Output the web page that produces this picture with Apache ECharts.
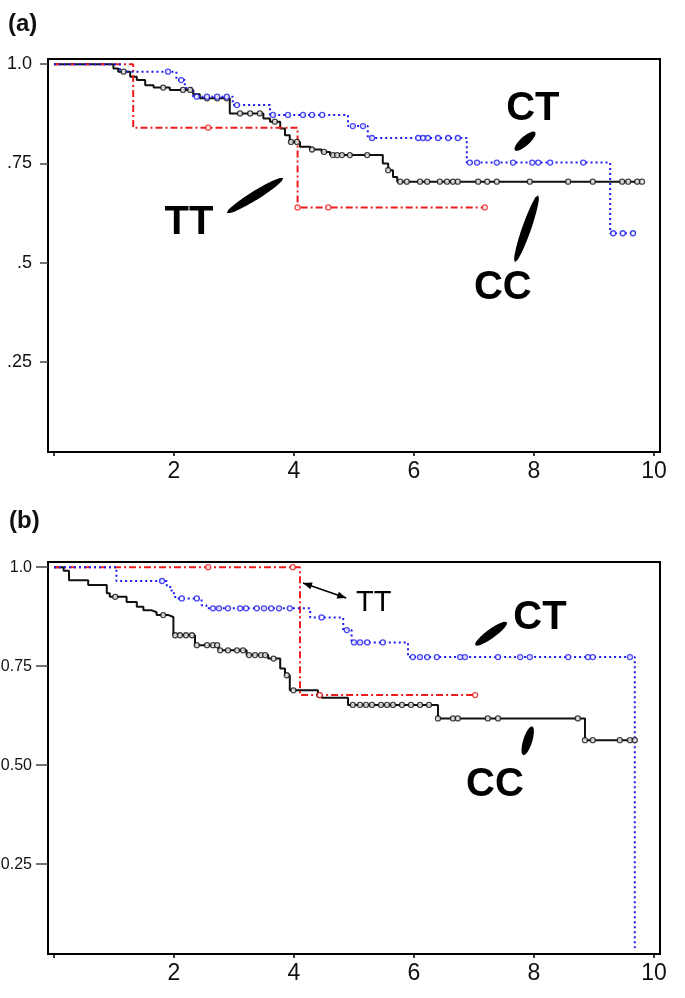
<!DOCTYPE html>
<html><head><meta charset="utf-8">
<script src="https://cdn.jsdelivr.net/npm/echarts@6/dist/echarts.min.js"></script>
<style>html,body{margin:0;padding:0;background:#fff}#c{width:685px;height:998px}</style>
</head><body><div id="c"></div><script>
// ---------- Panel (a) ----------
const ccA_time = [0, 0.99, 1.07, 1.27, 1.38, 1.52, 1.66, 1.93, 2.32, 2.43, 2.93, 3.49, 3.6, 3.77, 3.85, 3.93, 4.1, 4.27, 4.46, 4.6, 5.48, 5.57, 5.65, 5.72, 9.8];
const ccA_surv = [1, 0.989, 0.981, 0.968, 0.96, 0.947, 0.941, 0.935, 0.924, 0.914, 0.876, 0.863, 0.855, 0.838, 0.821, 0.804, 0.792, 0.785, 0.779, 0.771, 0.75, 0.733, 0.716, 0.704, 0.704];
const ccA_cens = [1.16, 1.82, 2.15, 2.27, 2.55, 2.72, 2.88, 3.1, 3.27, 3.43, 3.68, 3.95, 4.05, 4.3, 4.5, 4.65, 4.72, 4.8, 4.93, 5.22, 5.57, 5.77, 5.88, 6.1, 6.22, 6.43, 6.55, 6.65, 6.73, 7.07, 7.22, 7.38, 7.93, 8.57, 8.98, 9.47, 9.57, 9.72, 9.8];

const ctA_time = [0, 1.1, 2.04, 2.18, 2.32, 2.98, 3.6, 4.9, 5.23, 6.88, 9.27, 9.7];
const ctA_surv = [1, 0.981, 0.96, 0.94, 0.918, 0.897, 0.872, 0.844, 0.814, 0.752, 0.574, 0.574];
const ctA_cens = [1.9, 2.12, 2.38, 2.55, 2.72, 2.88, 3.05, 3.65, 3.9, 4.15, 4.3, 4.47, 4.98, 5.15, 5.3, 6.07, 6.15, 6.23, 6.4, 6.57, 6.73, 6.93, 7.05, 7.38, 7.65, 7.97, 8.07, 8.27, 8.82, 9.32, 9.48, 9.65];

const ttA_time = [0, 1.32, 4.06, 7.18];
const ttA_surv = [1, 0.84, 0.639, 0.639];
const ttA_cens = [2.57, 4.06, 4.57, 7.18];

// ---------- Panel (b) ----------
const ccB_time = [0, 0.16, 0.25, 0.57, 0.88, 0.93, 1.21, 1.38, 1.49, 1.63, 1.71, 1.91, 1.99, 2.35, 2.74, 3.21, 3.57, 3.77, 3.85, 3.93, 4.4, 4.46, 4.9, 6.4, 8.85, 9.68];
const ccB_surv = [1, 0.991, 0.967, 0.955, 0.934, 0.925, 0.912, 0.9, 0.891, 0.886, 0.879, 0.874, 0.828, 0.803, 0.79, 0.778, 0.769, 0.744, 0.727, 0.689, 0.677, 0.67, 0.652, 0.618, 0.563, 0.563];
const ccB_cens = [1.02, 1.82, 2.02, 2.1, 2.2, 2.3, 2.38, 2.55, 2.65, 2.72, 2.77, 2.9, 3.05, 3.15, 3.25, 3.35, 3.45, 3.52, 3.66, 3.88, 3.99, 4.42, 4.98, 5.1, 5.2, 5.3, 5.45, 5.55, 5.65, 5.8, 5.95, 6.1, 6.25, 6.4, 6.65, 6.73, 7.23, 7.4, 8.73, 8.85, 8.98, 9.43, 9.6, 9.68];

const ctB_time = [0, 1.04, 1.88, 1.96, 2.02, 2.46, 2.54, 4.27, 4.82, 4.96, 5.9, 9.68];
const ctB_surv = [1, 0.965, 0.95, 0.934, 0.921, 0.904, 0.896, 0.873, 0.841, 0.81, 0.773, 0.038];
const ctB_cens = [1.8, 2.13, 2.38, 2.65, 2.75, 2.9, 3.1, 3.2, 3.38, 3.5, 3.62, 3.75, 3.93, 4.46, 4.88, 5.0, 5.1, 5.22, 5.48, 5.98, 6.1, 6.22, 6.38, 6.77, 6.85, 7.4, 7.77, 7.93, 8.57, 8.9, 8.98, 9.6];

const ttB_time = [0, 4.1, 7.02];
const ttB_surv = [1, 0.677, 0.677];
const ttB_cens = [2.57, 3.98, 4.43, 7.02];

// ---------- Axis ticks / labels ----------
const xTicks = [0, 2, 4, 6, 8, 10];
const xLabels = [2, 4, 6, 8, 10];
const yTicks = [0.25, 0.5, 0.75, 1.0];
const yLabelsA = {'0.25': '.25', '0.5': '.5', '0.75': '.75', '1': '1.0'};
const yLabelsB = {'0.25': '0.25', '0.5': '0.50', '0.75': '0.75', '1': '1.0'};

const BLACK = '#111111', BLUE = '#1a1aee', RED = '#ee1c1c';
const NARROW = "'Liberation Sans Narrow', 'Arial Narrow', 'Liberation Sans', sans-serif";
const BOLD = "'Liberation Sans', Arial, sans-serif";

function levelAt(ts, ss, t) {
  let v = ss[0];
  for (let i = 0; i < ts.length; i++) if (ts[i] <= t + 1e-9) v = ss[i];
  return v;
}
function stepSeries(ts, ss, color, dash, gi, z) {
  return {type: 'line', xAxisIndex: gi, yAxisIndex: gi, step: 'end', showSymbol: false, symbol: 'none',
    data: ts.map((t, i) => [t, ss[i]]), lineStyle: {color: color, width: 2, type: dash}, z: z,
    animation: false, silent: true};
}
function censSeries(ts, ss, cens, color, gi, z) {
  return {type: 'scatter', xAxisIndex: gi, yAxisIndex: gi, symbol: 'circle', symbolSize: 5,
    data: cens.map(t => [t, levelAt(ts, ss, t)]),
    itemStyle: {color: '#fff', borderColor: color, borderWidth: 1.3}, z: z, animation: false, silent: true};
}
function xAxis(gi) {
  return {type: 'value', gridIndex: gi, min: -0.1, max: 10.1,
    axisLine: {show: true, onZero: false, lineStyle: {color: '#000', width: 2}},
    axisTick: {show: true, customValues: xTicks, length: 4, lineStyle: {color: '#000', width: 1.5}},
    axisLabel: {customValues: xLabels, fontSize: 23, fontFamily: NARROW, color: '#111', margin: 8},
    splitLine: {show: false}};
}
function yAxis(gi, labels, tickLen, margin, fs) {
  return {type: 'value', gridIndex: gi, min: 0.023, max: 1.013,
    axisLine: {show: true, onZero: false, lineStyle: {color: '#000', width: 2}},
    axisTick: {show: true, customValues: yTicks, length: tickLen, lineStyle: {color: '#444', width: 1.5}},
    axisLabel: {customValues: yTicks, fontSize: fs, fontFamily: NARROW, color: '#111', margin: margin,
      formatter: v => labels[String(+v.toFixed(2))] || ''},
    splitLine: {show: false}};
}

const option = {
  backgroundColor: '#fff',
  animation: false,
  title: [
    {text: '(a)', left: 8, top: 12, padding: 0, textStyle: {fontSize: 24, fontWeight: 'bold', fontFamily: BOLD, color: '#111'}},
    {text: '(b)', left: 9, top: 509, padding: 0, textStyle: {fontSize: 24, fontWeight: 'bold', fontFamily: BOLD, color: '#111'}}
  ],
  grid: [
    {left: 48, top: 59, width: 612, height: 393, show: true, borderColor: '#000', borderWidth: 2, backgroundColor: 'transparent', containLabel: false, outerBoundsMode: 'none'},
    {left: 48, top: 562, width: 612, height: 392, show: true, borderColor: '#000', borderWidth: 2, backgroundColor: 'transparent', containLabel: false, outerBoundsMode: 'none'}
  ],
  xAxis: [xAxis(0), xAxis(1)],
  yAxis: [yAxis(0, yLabelsA, 8, 16, 18), yAxis(1, yLabelsB, 12, 16, 16)],
  series: [
    stepSeries(ccA_time, ccA_surv, BLACK, 'solid', 0, 2),
    stepSeries(ttA_time, ttA_surv, RED, [7, 3, 2, 3], 0, 3),
    stepSeries(ctA_time, ctA_surv, BLUE, [2, 3], 0, 4),
    censSeries(ccA_time, ccA_surv, ccA_cens, BLACK, 0, 5),
    censSeries(ttA_time, ttA_surv, ttA_cens, RED, 0, 5),
    censSeries(ctA_time, ctA_surv, ctA_cens, BLUE, 0, 5),
    stepSeries(ccB_time, ccB_surv, BLACK, 'solid', 1, 2),
    stepSeries(ttB_time, ttB_surv, RED, [7, 3, 2, 3], 1, 3),
    stepSeries(ctB_time, ctB_surv, BLUE, [2, 3], 1, 4),
    censSeries(ccB_time, ccB_surv, ccB_cens, BLACK, 1, 5),
    censSeries(ttB_time, ttB_surv, ttB_cens, RED, 1, 5),
    censSeries(ctB_time, ctB_surv, ctB_cens, BLUE, 1, 5)
  ]
};

const chart = echarts.init(document.getElementById('c'), null, {renderer: 'canvas'});
chart.setOption(option);

// ---------- Annotations (positions in data coordinates) ----------
const labelsAnn = [
  {g: 0, text: 'CT', at: [7.98, 0.887], bold: true, size: 40},
  {g: 0, text: 'TT', at: [2.25, 0.60], bold: true, size: 40},
  {g: 0, text: 'CC', at: [7.48, 0.436], bold: true, size: 40},
  {g: 1, text: 'TT', at: [5.33, 0.909], bold: false, size: 29},
  {g: 1, text: 'CT', at: [8.1, 0.871], bold: true, size: 40},
  {g: 1, text: 'CC', at: [7.35, 0.449], bold: true, size: 40}
];
const pointersAnn = [
  {g: 0, from: [8.02, 0.829], to: [7.68, 0.783]},
  {g: 0, from: [3.82, 0.713], to: [2.88, 0.625]},
  {g: 0, from: [8.07, 0.67], to: [7.68, 0.501]},
  {g: 1, from: [7.55, 0.861], to: [7.02, 0.803]},
  {g: 1, from: [7.97, 0.598], to: [7.82, 0.525]}
];
const arrowsAnn = [{g: 1, from: [4.15, 0.96], to: [4.87, 0.922]}];

function px(g, p) { return chart.convertToPixel({gridIndex: g}, p); }
function lens(a, b, w) {
  const dx = b[0] - a[0], dy = b[1] - a[1], L = Math.hypot(dx, dy);
  const nx = -dy / L, ny = dx / L, n = 24, left = [], right = [];
  for (let i = 0; i <= n; i++) {
    const s = i / n, h = (w / 2) * Math.pow(Math.sin(Math.PI * s), 0.45);
    const cx = a[0] + dx * s, cy = a[1] + dy * s;
    left.push([cx + nx * h, cy + ny * h]);
    right.push([cx - nx * h, cy - ny * h]);
  }
  return left.concat(right.reverse());
}
function head(tip, from, size) {
  const dx = tip[0] - from[0], dy = tip[1] - from[1], L = Math.hypot(dx, dy);
  const ux = dx / L, uy = dy / L, nx = -uy, ny = ux;
  return [tip, [tip[0] - ux * size + nx * size * 0.4, tip[1] - uy * size + ny * size * 0.4],
          [tip[0] - ux * size - nx * size * 0.4, tip[1] - uy * size - ny * size * 0.4]];
}
const graphics = [];
labelsAnn.forEach(l => {
  const p = px(l.g, l.at);
  graphics.push({type: 'text', silent: true, z: 100, style: {text: l.text, x: p[0], y: p[1],
    font: (l.bold ? 'bold ' : '') + l.size + "px 'Liberation Sans', Arial, sans-serif",
    fill: '#000', align: 'center', verticalAlign: 'middle', textAlign: 'center', textVerticalAlign: 'middle'}});
});
pointersAnn.forEach(pt => {
  graphics.push({type: 'polygon', silent: true, z: 100, shape: {points: lens(px(pt.g, pt.from), px(pt.g, pt.to), 9)}, style: {fill: '#000'}});
});
arrowsAnn.forEach(ar => {
  const a = px(ar.g, ar.from), b = px(ar.g, ar.to);
  graphics.push({type: 'line', silent: true, z: 100, shape: {x1: a[0], y1: a[1], x2: b[0], y2: b[1]}, style: {stroke: '#000', lineWidth: 1.5}});
  graphics.push({type: 'polygon', silent: true, z: 100, shape: {points: head(a, b, 9)}, style: {fill: '#000'}});
  graphics.push({type: 'polygon', silent: true, z: 100, shape: {points: head(b, a, 9)}, style: {fill: '#000'}});
});
chart.setOption({graphic: graphics});
</script></body></html>
